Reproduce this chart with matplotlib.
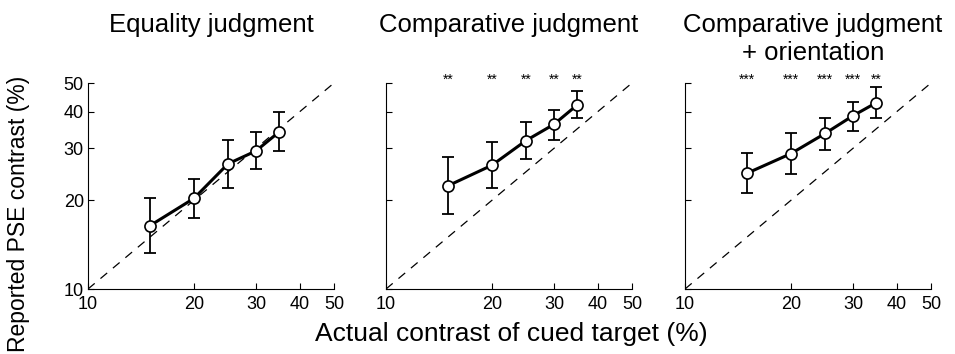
import matplotlib
matplotlib.use("Agg")
from matplotlib import pyplot as plt
from matplotlib.ticker import FixedLocator, NullLocator

plt.rcParams['font.family'] = ['Liberation Sans', 'DejaVu Sans']

# data
contrast = [15, 20, 25, 30, 35]
titles = ["Equality judgment", "Comparative judgment", "Comparative judgment\n+ orientation"]
pse = [
    [16.4, 20.3, 26.6, 29.4, 34.2],
    [22.4, 26.3, 31.9, 36.2, 42.2],
    [24.7, 28.8, 33.7, 38.7, 42.9],
]
err_hi = [
    [20.4, 23.7, 32.0, 34.0, 39.9],
    [28.1, 31.6, 36.8, 40.6, 47.0],
    [29.0, 33.9, 38.0, 43.2, 48.3],
]
err_lo = [
    [13.2, 17.4, 22.1, 25.5, 29.3],
    [17.9, 22.0, 27.6, 32.1, 37.9],
    [21.2, 24.6, 29.6, 34.4, 38.0],
]
stars = [
    [],
    ["**", "**", "**", "**", "**"],
    ["***", "***", "***", "***", "**"],
]
ticks = [10, 20, 30, 40, 50]

fig = plt.figure(figsize=(9.55, 3.54), dpi=100)
W, H = 955.0, 354.0
lefts = [88, 386, 685]
aw, top, bottom = 246, 83, 289

for i in range(3):
    ax = fig.add_axes([lefts[i] / W, 1 - bottom / H, aw / W, (bottom - top) / H])
    ax.set_xscale('log')
    ax.set_yscale('log')
    ax.set_xlim(10, 50)
    ax.set_ylim(10, 50)
    ax.plot([10, 50], [10, 50], color='black', lw=0.9, dashes=(7, 6))
    yerr = [[p - l for p, l in zip(pse[i], err_lo[i])], [h - p for p, h in zip(pse[i], err_hi[i])]]
    ax.errorbar(contrast, pse[i], yerr=yerr, fmt='none', ecolor='black', elinewidth=1.3,
                capsize=4, capthick=1.3, zorder=3)
    ax.plot(contrast, pse[i], '-o', color='black', lw=2.2, ms=8, mfc='white', mec='black',
            mew=1.2, zorder=4)
    for x, s in zip(contrast, stars[i]):
        ax.text(x, 51.3, s, ha='center', va='center', fontsize=10, clip_on=False)
    ax.spines['top'].set_visible(False)
    ax.spines['right'].set_visible(False)
    ax.xaxis.set_major_locator(FixedLocator(ticks))
    ax.yaxis.set_major_locator(FixedLocator(ticks))
    ax.xaxis.set_minor_locator(NullLocator())
    ax.yaxis.set_minor_locator(NullLocator())
    ax.set_xticklabels([str(t) for t in ticks])
    if i == 0:
        ax.set_yticklabels([str(t) for t in ticks])
    else:
        ax.set_yticklabels([])
    ax.tick_params(direction='in', length=4, labelsize=13, pad=3)
    ax.tick_params(axis='x', pad=5)
    # title lines placed one by one so the first lines line up across panels
    cx = (lefts[i] + aw / 2 + (5 if i == 2 else 0)) / W
    for k, line in enumerate(titles[i].split("\n")):
        fig.text(cx, 1 - (32 + 28 * k) / H, line, ha='center', va='baseline', fontsize=18.5)

fig.text(19 / W, 1 - 214 / H, "Reported PSE contrast (%)", rotation=90, ha='center',
         va='center', fontsize=16.5)
fig.text(511 / W, 1 - 334 / H, "Actual contrast of cued target (%)", ha='center',
         va='center', fontsize=19)

fig.savefig("out.png", dpi=100)
